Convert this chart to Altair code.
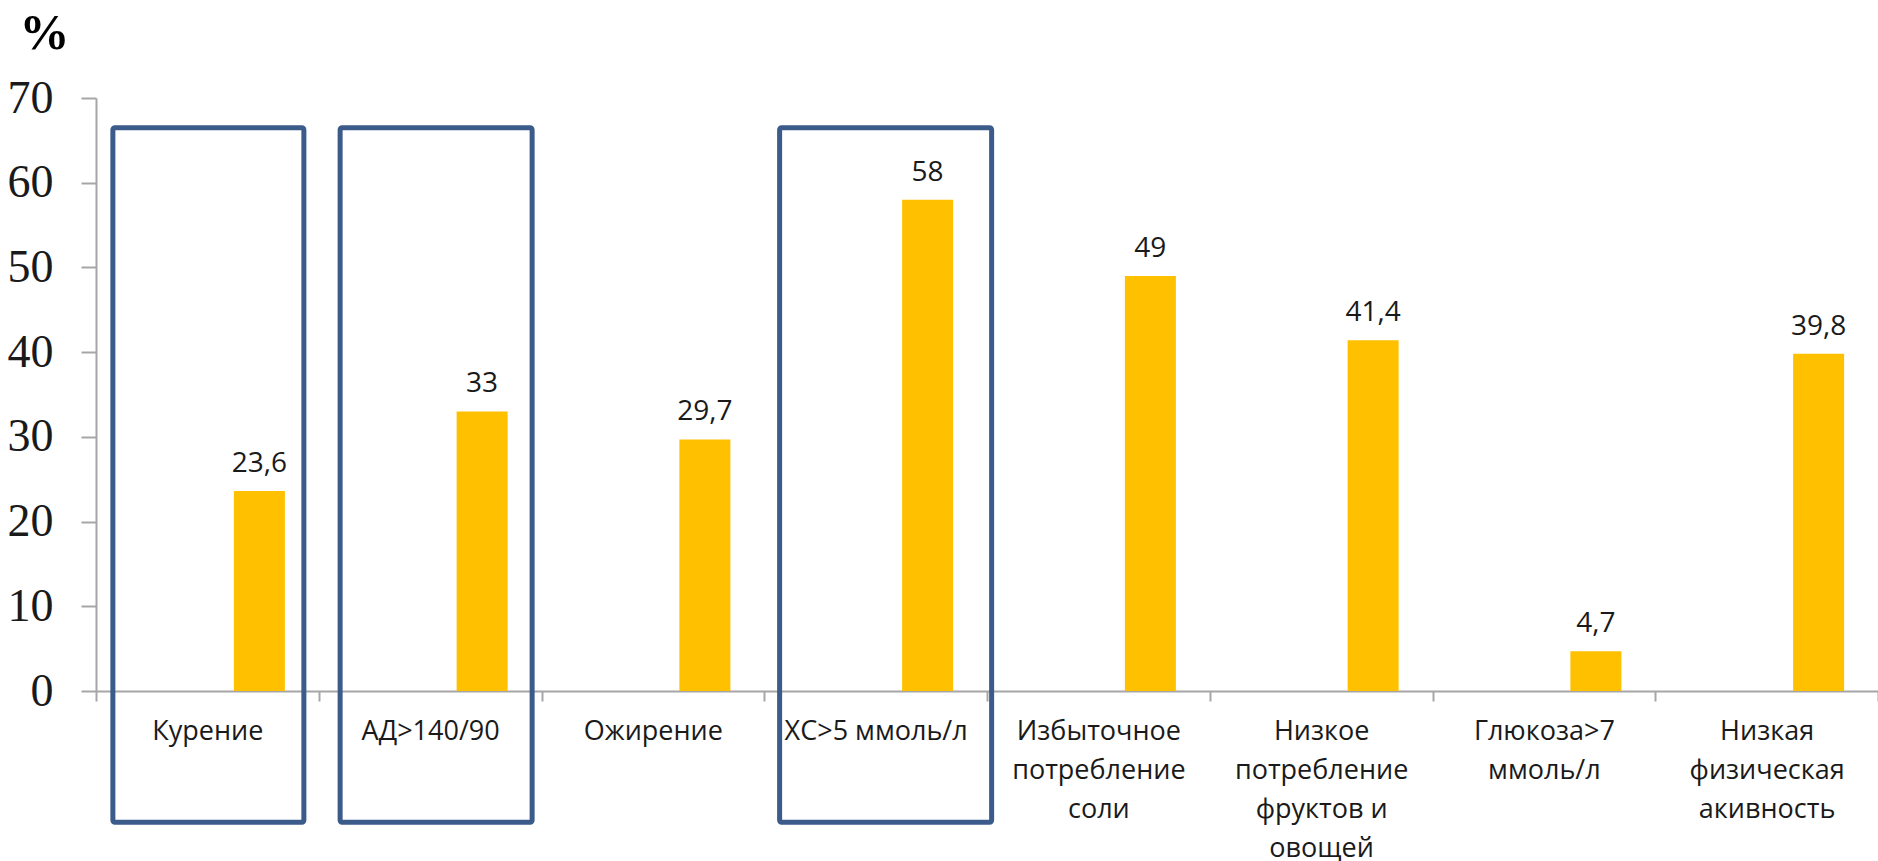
import altair as alt
import pandas as pd

categories = [
    "Курение",
    "АД>140/90",
    "Ожирение",
    "ХС>5 ммоль/л",
    "Избыточное\nпотребление\nсоли",
    "Низкое\nпотребление\nфруктов и\nовощей",
    "Глюкоза>7\nммоль/л",
    "Низкая\nфизическая\nакивность",
]
values = [23.6, 33, 29.7, 58, 49, 41.4, 4.7, 39.8]
highlighted = ["Курение", "АД>140/90", "ХС>5 ммоль/л"]
box_top = [66.5, 66.5, 66.5]
box_bottom = [-15.5, -15.5, -15.5]
y_ticks = [0, 10, 20, 30, 40, 50, 60, 70]

df = pd.DataFrame({"cat": categories, "value": values})
boxes = pd.DataFrame({"cat": highlighted, "top": box_top, "bottom": box_bottom})

GRAY = "#A6A6A6"
yscale = alt.Scale(domain=[0, 70], nice=False, zero=False)
xscale = alt.Scale(domain=categories, paddingInner=0, paddingOuter=0)

x_axis = alt.Axis(
    title=None,
    labelAngle=0,
    labelExpr="split(datum.label, '\\n')",
    labelFont="Open Sans",
    labelFontSize=27,
    labelColor="#1a1a1a",
    labelLineHeight=39,
    labelBaseline="top",
    labelPadding=17,
    labelLimit=0,
    tickBand="extent",
    tickSize=10,
    tickColor=GRAY,
    tickWidth=2,
    domainColor=GRAY,
    domainWidth=2,
)
y_axis = alt.Axis(
    values=y_ticks,
    grid=False,
    labelFont="Liberation Serif",
    labelFontSize=46,
    labelColor="#1a1a1a",
    labelPadding=28,
    tickSize=15,
    tickColor=GRAY,
    tickWidth=2,
    domainColor=GRAY,
    domainWidth=2,
    title="%",
    titleAngle=0,
    titleFont="Liberation Serif",
    titleFontSize=50,
    titleFontWeight="bold",
    titleColor="#000000",
    titleAlign="center",
    titleBaseline="alphabetic",
    titleX=-52,
    titleY=-50,
)

bars = alt.Chart(df).mark_bar(size=51, xOffset=52, color="#FFC000").encode(
    x=alt.X("cat:N", scale=xscale, axis=x_axis, sort=categories),
    y=alt.Y("value:Q", scale=yscale, axis=y_axis),
)

labels = alt.Chart(df).transform_calculate(
    lbl="replace(toString(datum.value), '.', ',')"
).mark_text(
    baseline="bottom", dy=-13, xOffset=52, font="Open Sans", fontSize=28, color="#1a1a1a"
).encode(
    x=alt.X("cat:N", scale=xscale, sort=categories),
    y=alt.Y("value:Q", scale=yscale),
    text="lbl:N",
)

# frame outline per highlighted category: (width, horizontal shift)
frame_style = [(191, 1), (192, 6), (212, 10)]
box_layers = []
for name, (w, off) in zip(highlighted, frame_style):
    box_layers.append(
        alt.Chart(boxes).transform_filter(alt.datum.cat == name).mark_bar(
            filled=False, stroke="#3B5B8A", strokeWidth=5, size=w, xOffset=off, cornerRadius=2
        ).encode(
            x=alt.X("cat:N", scale=xscale, sort=categories),
            y=alt.Y("top:Q", scale=yscale),
            y2="bottom:Q",
        )
    )

chart = alt.layer(bars, labels, *box_layers).properties(
    width=1782,
    height=593,
    autosize=alt.AutoSizeParams(type="none"),
    padding={"left": 96, "top": 98, "right": 0, "bottom": 170},
    background="white",
).configure_view(stroke=None)

chart.save("out.html", embed_options={"renderer": "svg", "actions": False})
